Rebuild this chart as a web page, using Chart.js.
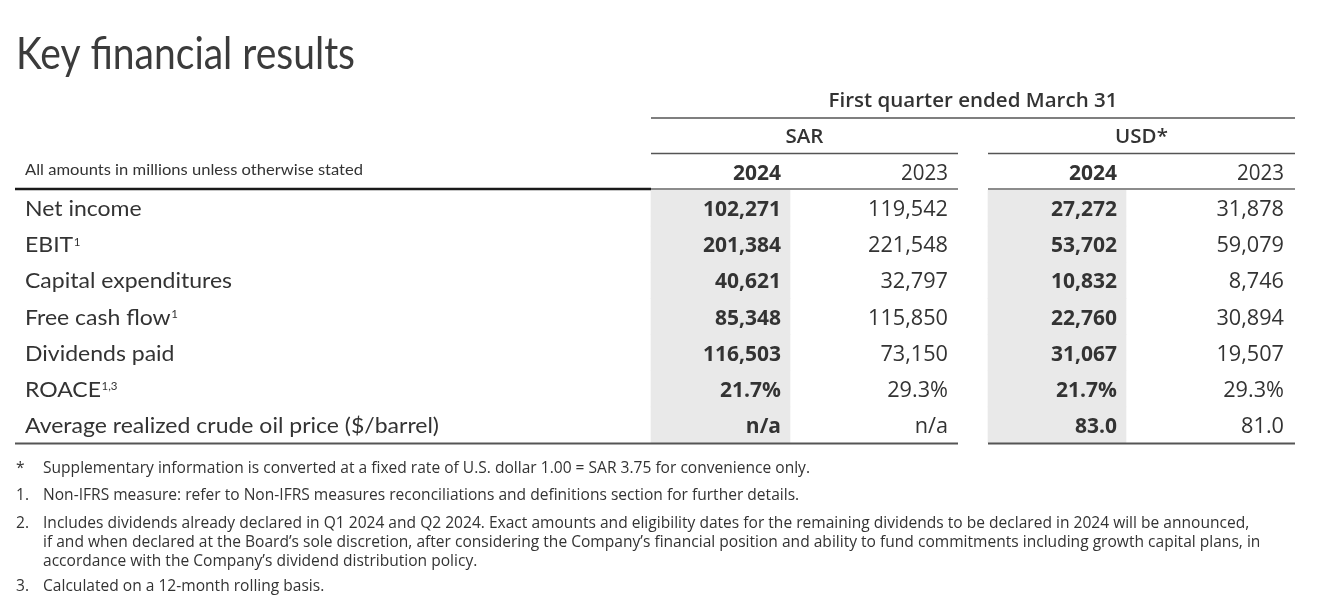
<!DOCTYPE html>
<html><head><meta charset="utf-8">
<script src="https://cdn.jsdelivr.net/npm/chart.js@4.4.1/dist/chart.umd.min.js"></script>
<style>html,body{margin:0;padding:0;background:#fff}#wrap{width:1318px;height:607px;position:relative}</style>
</head><body><div id="wrap"><canvas id="c"></canvas></div>
<script>
// ---------- data ----------
const titleText = "Key financial results";
const periodHeader = "First quarter ended March 31";
const currencies = ["SAR", "USD*"];
const years = ["2024", "2023"];
const unitNote = "All amounts in millions unless otherwise stated";
const rowLabels = ["Net income", "EBIT", "Capital expenditures", "Free cash flow", "Dividends paid", "ROACE", "Average realized crude oil price ($/barrel)"];
const rowNotes = ["", "1", "", "1", "", "1,3", ""];
const rowFormats = ["int", "int", "int", "int", "int", "pct", "dec"];
const sar2024 = [102271, 201384, 40621, 85348, 116503, 21.7, null];
const sar2023 = [119542, 221548, 32797, 115850, 73150, 29.3, null];
const usd2024 = [27272, 53702, 10832, 22760, 31067, 21.7, 83.0];
const usd2023 = [31878, 59079, 8746, 30894, 19507, 29.3, 81.0];
const footMarks = ["*", "1.", "2.", "3."];
const footTexts = [
  ["Supplementary information is converted at a fixed rate of U.S. dollar 1.00 = SAR 3.75 for convenience only."],
  ["Non-IFRS measure: refer to Non-IFRS measures reconciliations and definitions section for further details."],
  ["Includes dividends already declared in Q1 2024 and Q2 2024. Exact amounts and eligibility dates for the remaining dividends to be declared in 2024 will be announced,",
   "if and when declared at the Board\u2019s sole discretion, after considering the Company\u2019s financial position and ability to fund commitments including growth capital plans, in",
   "accordance with the Company\u2019s dividend distribution policy."],
  ["Calculated on a 12-month rolling basis."]
];

// ---------- layout (positions / styles) ----------
const LAY = {
  width: 1318,
  tableTop: 190, tableBottom: 443,
  colLeft: [651, 790, 988, 1126], colRight: [790, 958, 1126, 1295],
  valueRight: [781, 948, 1117, 1284],
  groupSpan: [[651, 958], [988, 1295]],
  labelX: 25, ruleLeft: 15,
  footMarkX: 16, footTextX: 43,
  footBase: [[472.5], [499.5], [527.5, 546.5, 565.5], [590.5]]
};
const TXT = '#333333';
const STY = {
  title: {fam: 'Lato', w: '400', size: 44, ref: titleText, target: 339, color: '#3b3b3b'},
  head:  {fam: '"Open Sans"', w: '600', size: 20, ref: periodHeader, target: 289},
  yearB: {fam: '"Open Sans"', w: '700', size: 21, ref: '2024', target: 48},
  yearR: {fam: '"Open Sans"', w: '400', size: 21, ref: '2023', target: 47},
  valB:  {fam: '"Open Sans"', w: '700', size: 21.5, ref: '102,271', target: 78},
  valR:  {fam: '"Open Sans"', w: '400', size: 21.5, ref: '119,542', target: 80},
  label: {fam: 'Lato', w: '400', size: 22, ref: rowLabels[6], target: 414},
  sup:   {fam: 'Lato', w: '400', size: 11, ref: null},
  note:  {fam: 'Lato', w: '400', size: 16, ref: unitNote, target: 338},
  foot:  {fam: '"Open Sans"', w: '400', size: 15.5, ref: footTexts[0][0], target: 767}
};

function fmt(v, f) {
  if (v === null || v === undefined) return 'n/a';
  if (f === 'int') return v.toLocaleString('en-US');
  if (f === 'pct') return v.toFixed(1) + '%';
  return v.toFixed(1);
}

function fontOf(s) { return s.w + ' ' + s.size + 'px ' + s.fam; }

function prepStyles(ctx) {
  for (const k in STY) {
    const s = STY[k];
    s.hs = 1;
    if (s.ref) {
      ctx.font = fontOf(s);
      const m = ctx.measureText(s.ref).width;
      if (m > 0) s.hs = s.target / m;
    }
  }
  STY.sup.hs = STY.label.hs;
}

function drawText(ctx, text, x, y, s, align) {
  ctx.save();
  ctx.font = fontOf(s);
  ctx.fillStyle = s.color || TXT;
  ctx.textBaseline = 'alphabetic';
  const w = ctx.measureText(text).width * s.hs;
  let x0 = x;
  if (align === 'right') x0 = x - w;
  else if (align === 'center') x0 = x - w / 2;
  ctx.translate(x0, y);
  ctx.scale(s.hs, 1);
  ctx.textAlign = 'left';
  ctx.fillText(text, 0, 0);
  ctx.restore();
  return w;
}

function hline(ctx, x1, x2, y, color, lw) {
  ctx.save();
  ctx.strokeStyle = color; ctx.lineWidth = lw;
  ctx.beginPath(); ctx.moveTo(x1, y); ctx.lineTo(x2, y); ctx.stroke();
  ctx.restore();
}

const tablePlugin = {
  id: 'tablePlugin',
  beforeDraw(chart) {
    const ctx = chart.ctx;
    ctx.save(); ctx.fillStyle = '#fff'; ctx.fillRect(0, 0, chart.width, chart.height); ctx.restore();
  },
  afterDatasetsDraw(chart) {
    const ctx = chart.ctx;
    const xs = chart.scales.x, ys = chart.scales.y;
    prepStyles(ctx);
    const px = v => xs.getPixelForValue(v);

    // title
    drawText(ctx, titleText, 16, 69, STY.title, 'left');
    // period header
    const gL = px(LAY.groupSpan[0][0]), gR = px(LAY.groupSpan[1][1]);
    drawText(ctx, periodHeader, (gL + gR) / 2, 107, STY.head, 'center');
    hline(ctx, gL, gR, 118, '#555', 1.6);
    // currency headers
    LAY.groupSpan.forEach((sp, i) => {
      const a = px(sp[0]), b = px(sp[1]);
      drawText(ctx, currencies[i], (a + b) / 2, 143, STY.head, 'center');
      hline(ctx, a, b, 153.5, '#555', 1.6);
      drawText(ctx, years[0], px(LAY.valueRight[i * 2]), 180, STY.yearB, 'right');
      drawText(ctx, years[1], px(LAY.valueRight[i * 2 + 1]), 180, STY.yearR, 'right');
      hline(ctx, a, b, 189, '#666', 1.6);
    });
    drawText(ctx, unitNote, LAY.labelX, 175, STY.note, 'left');
    hline(ctx, LAY.ruleLeft, px(LAY.groupSpan[0][0]), 189, '#1a1a1a', 2.4);

    // rows
    const cols = [sar2024, sar2023, usd2024, usd2023];
    rowLabels.forEach((lab, i) => {
      const yc = ys.getPixelForValue(i);
      const base = yc + 8;
      const w = drawText(ctx, lab, LAY.labelX, base, STY.label, 'left');
      if (rowNotes[i]) drawText(ctx, rowNotes[i], LAY.labelX + w + 0.5, base - 6.5, STY.sup, 'left');
      cols.forEach((arr, c) => {
        drawText(ctx, fmt(arr[i], rowFormats[i]), px(LAY.valueRight[c]), base, c % 2 === 0 ? STY.valB : STY.valR, 'right');
      });
    });
    // bottom rules
    const bot = chart.chartArea.bottom;
    hline(ctx, LAY.ruleLeft, px(LAY.groupSpan[0][1]), bot + 0.5, '#555', 2);
    hline(ctx, px(LAY.groupSpan[1][0]), px(LAY.groupSpan[1][1]), bot + 0.5, '#555', 2);

    // footnotes
    footTexts.forEach((lines, k) => {
      drawText(ctx, footMarks[k], LAY.footMarkX, LAY.footBase[k][0], STY.foot, 'left');
      lines.forEach((ln, j) => drawText(ctx, ln, LAY.footTextX, LAY.footBase[k][j], STY.foot, 'left'));
    });
  }
};

const shadeSpan = c => rowLabels.map(() => [LAY.colLeft[c], LAY.colRight[c]]);

new Chart(document.getElementById('c'), {
  type: 'bar',
  data: {
    labels: rowLabels,
    datasets: [
      {label: 'SAR 2024', data: shadeSpan(0), backgroundColor: '#e9e9e9', borderWidth: 0, barPercentage: 1, categoryPercentage: 1, grouped: false},
      {label: 'USD* 2024', data: shadeSpan(2), backgroundColor: '#e9e9e9', borderWidth: 0, barPercentage: 1, categoryPercentage: 1, grouped: false}
    ]
  },
  options: {
    indexAxis: 'y',
    responsive: true,
    maintainAspectRatio: false,
    animation: false,
    layout: {padding: {top: LAY.tableTop, bottom: 607 - LAY.tableBottom, left: 0, right: 0}},
    plugins: {legend: {display: false}, tooltip: {enabled: false}},
    scales: {
      x: {type: 'linear', min: 0, max: LAY.width, display: false},
      y: {type: 'category', display: false, offset: true}
    }
  },
  plugins: [tablePlugin]
});
</script>
</body></html>
